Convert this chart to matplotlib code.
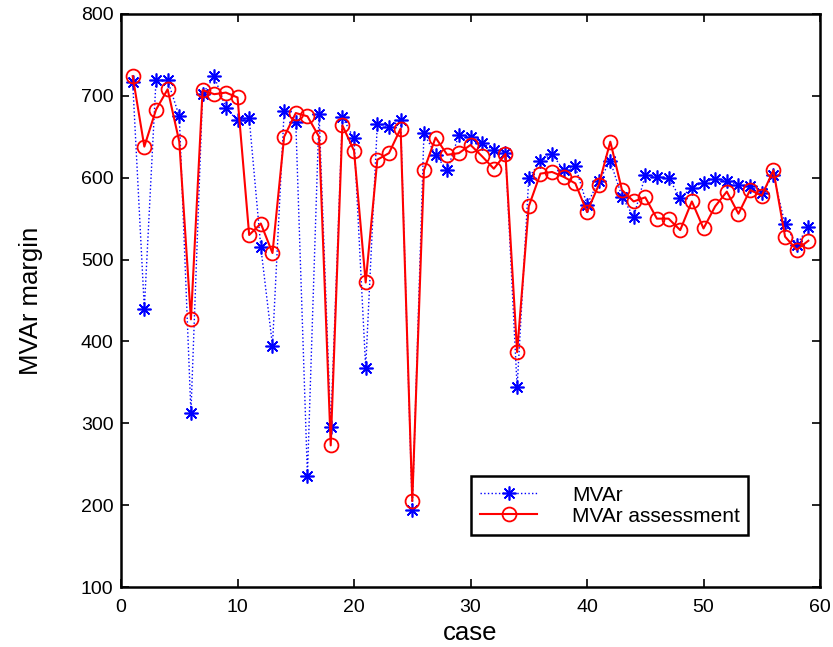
import matplotlib
matplotlib.use("Agg")
import matplotlib.pyplot as plt

plt.rcParams['font.family'] = ['Liberation Sans', 'DejaVu Sans']

cases = list(range(1, 60))
mvar = [717, 440, 719, 719, 675, 313, 702, 724, 685, 670,
        673, 515, 395, 681, 668, 236, 678, 295, 674, 648,
        368, 666, 662, 670, 194, 654, 628, 609, 652, 650,
        642, 634, 630, 344, 600, 620, 629, 609, 614, 567,
        596, 620, 577, 552, 603, 601, 600, 575, 588, 594,
        599, 596, 591, 590, 581, 603, 543, 518, 540]
mvar_assess = [724, 638, 683, 708, 644, 427, 707, 702, 704, 698,
               530, 544, 508, 650, 679, 675, 650, 273, 664, 633,
               472, 622, 630, 660, 205, 609, 649, 628, 630, 640,
               626, 611, 629, 387, 565, 605, 607, 601, 593, 558,
               591, 644, 585, 571, 576, 550, 550, 536, 571, 538,
               565, 583, 556, 585, 578, 609, 528, 512, 523]

xticks = [0, 10, 20, 30, 40, 50, 60]
yticks = [100, 200, 300, 400, 500, 600, 700, 800]

fig = plt.figure(figsize=(8.33, 6.47), dpi=100)
ax = fig.add_axes([0.1453, 0.0927, 0.8391, 0.8857])

ax.plot(cases, mvar, color=(0, 0, 1), linestyle=':', linewidth=1.0,
        marker=(8, 2, 0), markersize=10, markeredgewidth=1.2,
        label='MVAr')
ax.plot(cases, mvar_assess, color=(1, 0, 0), linestyle='-', linewidth=1.5,
        marker='o', markersize=10, markerfacecolor='none',
        markeredgewidth=1.3, label='MVAr assessment')

ax.set_xlim(0, 60)
ax.set_ylim(100, 800)
ax.set_xticks(xticks)
ax.set_yticks(yticks)
ax.tick_params(direction='in', top=True, right=True, length=5.5, width=1.2,
               labelsize=14)
ax.tick_params(axis='x', pad=8.5)
ax.tick_params(axis='y', pad=5.5)
for s in ax.spines.values():
    s.set_linewidth(1.8)

ax.set_xlabel('case', fontsize=18.5, labelpad=4)
ax.set_ylabel('MVAr margin', fontsize=18.5, labelpad=27)

leg = ax.legend(loc='lower left', bbox_to_anchor=(0.5007, 0.0908, 0.3963, 0.114),
                mode='expand', borderaxespad=0, numpoints=1,
                handlelength=2.7, handletextpad=1.7,
                fontsize=15, fancybox=False, framealpha=1, borderpad=0.45,
                labelspacing=0.1)
leg.get_frame().set_edgecolor('black')
leg.get_frame().set_linewidth(1.8)

fig.savefig('out.png', dpi=100)
